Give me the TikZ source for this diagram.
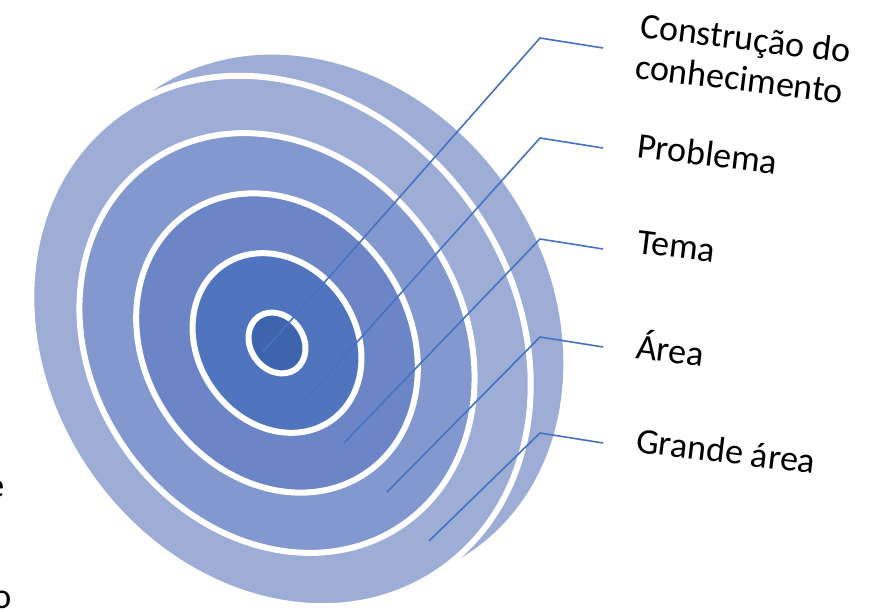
\documentclass[tikz,border=0pt]{standalone}
\usepackage{fontspec}
\setmainfont{Carlito}
\definecolor{cOuter}{HTML}{9EADD6}
\definecolor{cArea}{HTML}{8398CF}
\definecolor{cTema}{HTML}{6B85C6}
\definecolor{cProb}{HTML}{5174BF}
\definecolor{cCentro}{HTML}{3E64AD}
\definecolor{leadblue}{HTML}{4472C4}
\tikzset{
  ring/.style={draw=white, line width=6pt},
  leader/.style={draw=leadblue, line width=1.6pt},
  lbl/.style={font=\fontsize{36}{41}\selectfont, rotate=-7, anchor=base west, inner sep=0pt, align=left},
}
\begin{document}
\begin{tikzpicture}[x=1pt,y=1pt]
\useasboundingbox (0,0) rectangle (879,-612);
% back of the outer ring
\fill[cOuter, rotate around={-55:(312,-321)}] (312,-321) ellipse [x radius=280, y radius=236];
% rings, outside in
\foreach \s/\cx/\cy/\col in {1.26/281/341/cOuter, 1/277/343/cArea, 0.717/277/343/cTema, 0.436/277/343/cProb, 0.157/277/343/cCentro}{%
    \filldraw[ring, fill=\col, rotate around={-55:(\cx,-\cy)}] (\cx,-\cy) ellipse [x radius={224*\s-3}, y radius={188*\s-3}];
}
% leaders
\foreach \i/\sx/\sy/\ky in {1/263/352/38, 2/306/399/138, 3/344/443/239, 4/387/492/337, 5/429/541/433}{%
    \coordinate (s\i) at (\sx,-\sy);
    \coordinate (k\i) at (540,-\ky);
    \coordinate (e\i) at (603,-\ky-10);
    \draw[leader] (s\i) -- (k\i) -- (e\i);
}
\node[lbl] (construcao) at (634,-78) {Construção do\\conhecimento};
\node[lbl] (problema) at (636,-157) {Problema};
\node[lbl] (tema) at (636,-253) {Tema};
\node[lbl] (area) at (635,-358) {Área};
\node[lbl] (grande) at (635,-452) {Grande área};
% cut-off letters at the left edge
\begin{scope}
\clip (0,0) rectangle (879,-612);
\node[anchor=base east, inner sep=0pt, font=\fontsize{36}{41}\selectfont] (fragE) at (4.5,-497) {e};
\node[anchor=base east, inner sep=0pt, font=\fontsize{36}{41}\selectfont] (fragO) at (11.5,-608) {o};
\end{scope}
\end{tikzpicture}
\end{document}
